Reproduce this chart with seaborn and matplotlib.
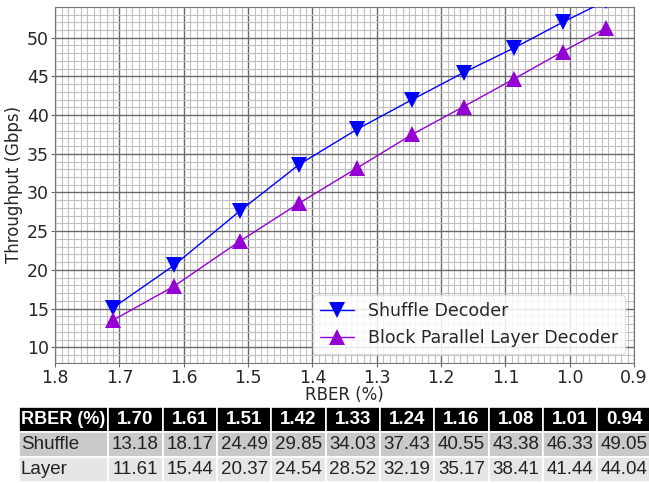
import numpy as np
import pandas as pd
import matplotlib
matplotlib.use("Agg")
import matplotlib.pyplot as plt
import seaborn as sns
from matplotlib.ticker import MultipleLocator

# valores
rber = [1.71, 1.615, 1.513, 1.421, 1.330, 1.245, 1.165, 1.086, 1.011, 0.943]
shuffle_thr = [15.1, 20.6, 27.6, 33.6, 38.2, 42.0, 45.5, 48.7, 52.0, 54.8]
layer_thr = [13.5, 17.9, 23.7, 28.6, 33.2, 37.5, 41.1, 44.7, 48.2, 51.25]

# valores da tabela
tab_rber = ["1.70", "1.61", "1.51", "1.42", "1.33", "1.24", "1.16", "1.08", "1.01", "0.94"]
tab_shuffle = ["13.18", "18.17", "24.49", "29.85", "34.03", "37.43", "40.55", "43.38", "46.33", "49.05"]
tab_layer = ["11.61", "15.44", "20.37", "24.54", "28.52", "32.19", "35.17", "38.41", "41.44", "44.04"]

series = ["Shuffle Decoder", "Block Parallel Layer Decoder"]

df = pd.DataFrame({
    "RBER": rber * 2,
    "thr": shuffle_thr + layer_thr,
    "dec": [series[0]] * len(rber) + [series[1]] * len(rber),
})

sns.set_style("white")
plt.rcParams["font.family"] = ["DejaVu Sans"]

fig = plt.figure(figsize=(6.49, 4.83), dpi=100)
ax = fig.add_axes([0.085, 0.249, 0.892, 0.737])

sns.lineplot(data=df, x="RBER", y="thr", hue="dec", style="dec",
             palette={series[0]: "blue", series[1]: "darkviolet"},
             markers={series[0]: "v", series[1]: "^"}, dashes=False,
             markersize=12, linewidth=1, markeredgewidth=0,
             ax=ax, zorder=3)

ax.set_xlim(1.8, 0.9)
ax.set_ylim(8, 54)
ax.xaxis.set_major_locator(MultipleLocator(0.1))
ax.xaxis.set_minor_locator(MultipleLocator(0.01))
ax.yaxis.set_major_locator(MultipleLocator(5))
ax.yaxis.set_minor_locator(MultipleLocator(1))
ax.set_xticklabels([f"{v:.1f}" for v in ax.get_xticks()])
ax.grid(which="major", color="#6a6a6a", linewidth=1.0)
ax.grid(which="minor", color="#c0c0c0", linewidth=0.8)
ax.set_axisbelow(True)
ax.tick_params(which="major", labelsize=12.5, length=3, pad=1.5, color="#666666",
               direction="out", bottom=True, left=True)
ax.tick_params(which="minor", length=0)
for s in ax.spines.values():
    s.set_color("#777777")
ax.set_xlabel("RBER (%)", fontsize=12, labelpad=-1)
ax.set_ylabel("Throughput (Gbps)", fontsize=12, labelpad=3)

leg = ax.legend(loc="lower right", fontsize=12.5, frameon=True, handlelength=2.0)
leg.get_frame().set_edgecolor("#dddddd")
leg.get_frame().set_alpha(0.85)

# tabela
tax = fig.add_axes([0.029, 0.002, 0.975, 0.155])
tax.axis("off")
cells = [["RBER (%)"] + tab_rber, ["Shuffle"] + tab_shuffle, ["Layer"] + tab_layer]
widths = [89] + [54] * 10
tbl = tax.table(cellText=cells, bbox=[0, 0, 1, 1], colWidths=[w / sum(widths) for w in widths])
tbl.auto_set_font_size(False)
row_bg = ["black", "#c9c9c9", "#e6e6e6"]
for (r, c), cell in tbl.get_celld().items():
    cell.set_facecolor(row_bg[r])
    cell.set_edgecolor("white")
    cell.set_linewidth(1.2)
    t = cell.get_text()
    t.set_fontfamily("Liberation Sans")
    t.set_fontsize(13.5)
    t.set_ha("left" if c == 0 else "center")
    cell.PAD = 0.02
    if r == 0:
        t.set_color("white")
        t.set_fontweight("bold")
        if c == 0:
            t.set_fontsize(13)
    else:
        t.set_color("#222222")

fig.savefig("out.png", dpi=100)
